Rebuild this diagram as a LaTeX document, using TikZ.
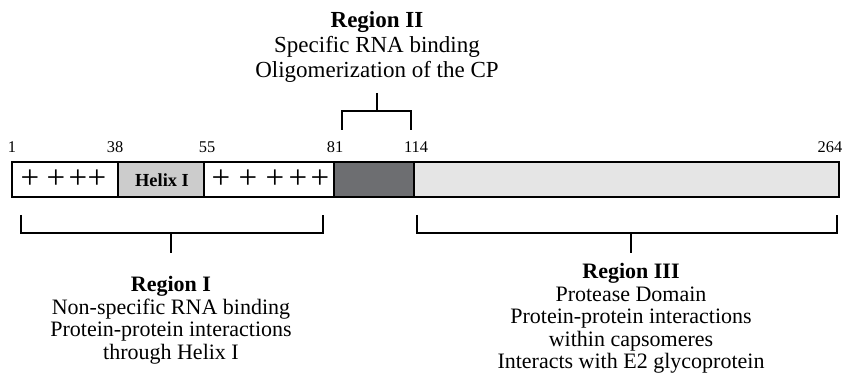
\documentclass[tikz,border=0pt]{standalone}
\usepackage{fontspec}
\setmainfont{Liberation Serif}

\begin{document}
\begin{tikzpicture}[x=0.5pt,y=-0.5pt,
	seg/.style={line width=0.8pt},
	num/.style={font=\fontsize{8.2}{10}\selectfont,anchor=base,inner sep=0pt},
	plus/.style={font=\fontsize{16.5}{16.5}\selectfont,inner sep=0pt},
	lbl/.style={font=\fontsize{11}{11.25}\selectfont,align=center,anchor=north,inner sep=0pt},
	brk/.style={line width=0.6pt}]
	\useasboundingbox (0,0) rectangle (844,383);
	% the protein bar
	\draw[seg] (12,162) rectangle (118,197);
	\draw[seg,fill=black!20] (118,162) rectangle (204,197);
	\draw[seg] (204,162) rectangle (334,197);
	\draw[seg,fill=black!10] (414,162) rectangle (839,197);
	\draw[seg,fill={rgb,255:red,109;green,110;blue,113}] (334,162) rectangle (414,197);
	\node[font=\fontsize{9.2}{9.2}\selectfont\bfseries,inner sep=0pt] (helix) at (162,180) {Helix I};
	\foreach \x [count=\i] in {30,56,78,97,221,248,275,298,320}
		\node[plus] (p\i) at (\x,179) {+};
	% residue numbers
	\node[num] (n1) at (12,153) {1};
	\node[num] (n38) at (115,153) {38};
	\node[num] (n55) at (207,153) {55};
	\node[num] (n81) at (335,153) {81};
	\node[num] (n114) at (416,153) {114};
	\node[num] (n264) at (830,153) {264};
	% region II
	\node[lbl,font=\fontsize{11.5}{12.5}\selectfont] (r2) at (377,11) {\textbf{Region II}\\Specific RNA binding\\Oligomerization of the CP};
	\coordinate (b2) at (377,93);
	\coordinate (b2l) at (342,130);
	\coordinate (b2r) at (411,130);
	\draw[brk] (b2) -- (377,111);
	\draw[brk] (b2l) |- (377,111) -| (b2r);
	% region I
	\coordinate (b1l) at (21,215);
	\coordinate (b1r) at (323,215);
	\coordinate (b1) at (171,253);
	\draw[brk] (b1l) |- (171,233) -| (b1r);
	\draw[brk] (171,233) -- (b1);
	\node[lbl] (r1) at (171,276) {\textbf{Region I}\\Non-specific RNA binding\\Protein-protein interactions\\through Helix I};
	% region III
	\coordinate (b3l) at (417,215);
	\coordinate (b3r) at (837,215);
	\coordinate (b3) at (631,253);
	\draw[brk] (b3l) |- (631,233) -| (b3r);
	\draw[brk] (631,233) -- (b3);
	\node[lbl] (r3) at (631,263) {\textbf{Region III}\\Protease Domain\\Protein-protein interactions\\within capsomeres\\Interacts with E2 glycoprotein};
\end{tikzpicture}
\end{document}
